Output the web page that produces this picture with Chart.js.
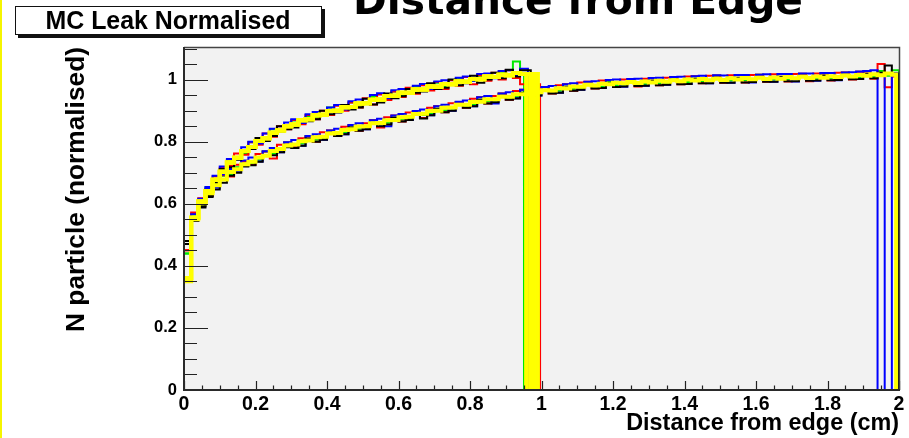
<!DOCTYPE html>
<html>
<head>
<meta charset="utf-8">
<script src="https://cdn.jsdelivr.net/npm/chart.js@4.4.1/dist/chart.umd.min.js"></script>
<style>
  html, body { margin: 0; padding: 0; background: #ffffff; }
  #wrap { position: relative; width: 909px; height: 438px; }
</style>
</head>
<body>
<div id="wrap"><canvas id="c" width="909" height="438"></canvas></div>
<script>
// Histogram bin width (cm) shared by every series
const binWidth = 0.02;

// Narrow module (about 1 cm): bin contents from 0 cm upward
const yellowA = [0.36,0.555,0.607,0.641,0.677,0.703,0.733,0.748,0.77,0.783,
  0.802,0.811,0.829,0.836,0.85,0.855,0.869,0.872,0.885,0.887,
  0.899,0.9,0.911,0.912,0.923,0.924,0.935,0.936,0.947,0.948,
  0.958,0.958,0.968,0.968,0.978,0.977,0.986,0.985,0.994,0.993,
  1.002,1.001,1.01,1.008,1.016,1.014,1.021,1.018];
const blackA = [0.48,0.545,0.592,0.625,0.668,0.712,0.718,0.742,0.772,0.776,
  0.812,0.802,0.818,0.85,0.84,0.846,0.872,0.866,0.872,0.9,
  0.888,0.894,0.918,0.904,0.91,0.938,0.92,0.926,0.955,0.94,
  0.946,0.97,0.958,0.962,0.988,0.97,0.974,1.0,0.982,0.988,
  1.012,0.99,1.0,1.022,1.004,1.032,1.01,1.03];
const redA = [0.45,0.572,0.618,0.628,0.688,0.716,0.722,0.762,0.758,0.798,
  0.79,0.826,0.816,0.85,0.84,0.87,0.856,0.886,0.872,0.9,
  0.886,0.916,0.9,0.926,0.91,0.94,0.92,0.952,0.934,0.962,
  0.944,0.974,0.954,0.982,0.965,0.992,0.97,0.998,0.98,1.008,
  0.985,1.014,0.996,1.022,1.0,1.03,1.005,0.985];
const greenA = [0.44,0.552,0.598,0.652,0.664,0.698,0.742,0.744,0.76,0.798,
  0.794,0.806,0.84,0.832,0.852,0.868,0.862,0.88,0.878,0.884,
  0.91,0.898,0.904,0.926,0.914,0.922,0.944,0.93,0.94,0.962,
  0.95,0.956,0.976,0.964,0.97,0.99,0.978,0.984,1.002,0.99,
  0.996,1.012,1.0,1.006,1.022,1.012,1.058,1.02];
const blueA = [0.36,0.566,0.616,0.654,0.69,0.72,0.744,0.746,0.782,0.8,
  0.794,0.826,0.842,0.832,0.862,0.872,0.86,0.888,0.896,0.884,
  0.91,0.918,0.904,0.93,0.936,0.922,0.95,0.956,0.94,0.966,
  0.97,0.956,0.98,0.986,0.97,0.994,0.998,0.984,1.006,1.01,
  0.996,1.018,1.02,1.004,1.028,1.03,1.012,1.035];

// Upper edge (cm) where each narrow-module histogram drops to zero
const blackEndA = 0.97;
const redEndA = 0.996;
const greenEndA = 0.951;
const blueEndA = 0.962;
const yellowEndsA = [0.957, 0.968, 0.979, 0.99];

// Wide module (about 2 cm): bin contents from 0 cm upward
const yellowB = [0.35,0.55,0.602,0.634,0.66,0.678,0.702,0.711,0.727,0.735,
  0.749,0.755,0.77,0.776,0.788,0.791,0.801,0.804,0.814,0.816,
  0.826,0.828,0.838,0.84,0.849,0.85,0.859,0.86,0.869,0.87,
  0.879,0.88,0.889,0.89,0.899,0.9,0.909,0.91,0.919,0.919,
  0.928,0.929,0.937,0.937,0.945,0.945,0.953,0.953,0.96,0.959,
  0.966,0.965,0.972,0.971,0.978,0.977,0.983,0.981,0.987,0.985,
  0.99,0.988,0.992,0.989,0.994,0.991,0.996,0.993,0.998,0.995,
  1.0,0.997,1.002,0.998,1.003,0.999,1.004,1.0,1.005,1.001,
  1.006,1.002,1.007,1.003,1.008,1.004,1.009,1.005,1.01,1.006,
  1.011,1.008,1.013,1.01,1.015,1.012,1.017,1.014,1.02,1.016];
const blackB = [0.47,0.545,0.588,0.622,0.646,0.668,0.69,0.7,0.72,0.724,
  0.735,0.754,0.756,0.766,0.782,0.78,0.787,0.81,0.8,0.806,
  0.828,0.818,0.824,0.846,0.835,0.84,0.86,0.85,0.855,0.876,
  0.865,0.87,0.89,0.875,0.885,0.905,0.895,0.9,0.92,0.909,
  0.914,0.934,0.923,0.927,0.946,0.935,0.939,0.958,0.946,0.949,
  0.966,0.955,0.958,0.975,0.964,0.967,0.984,0.971,0.973,0.99,
  0.976,0.978,0.993,0.979,0.98,0.996,0.982,0.983,0.999,0.985,
  0.986,1.002,0.988,0.988,1.004,0.99,0.99,1.005,0.991,0.992,
  1.007,0.993,0.993,1.008,0.995,0.995,1.01,0.996,0.997,1.012,
  0.998,0.999,1.014,1.001,1.002,1.018,1.004,1.022,1.045,1.02];
const redB = [0.45,0.568,0.612,0.624,0.672,0.692,0.688,0.726,0.736,0.725,
  0.76,0.768,0.746,0.79,0.797,0.782,0.811,0.817,0.8,0.83,
  0.836,0.818,0.848,0.853,0.835,0.859,0.869,0.846,0.879,0.884,
  0.865,0.894,0.898,0.876,0.909,0.914,0.895,0.924,0.928,0.909,
  0.938,0.943,0.923,0.947,0.955,0.935,0.963,0.967,0.946,0.973,
  0.976,0.955,0.982,0.985,0.964,0.991,0.993,0.971,0.997,0.999,
  0.976,1.0,1.002,0.978,1.003,1.004,0.982,1.006,1.008,0.985,
  1.01,1.011,0.988,1.012,1.013,0.99,1.014,1.014,0.991,1.015,
  1.016,0.993,1.017,1.017,0.994,1.018,1.019,0.995,1.02,1.02,
  0.997,1.022,1.023,1.0,1.025,1.026,1.003,1.05,0.975,1.01];
const greenB = [0.44,0.56,0.61,0.628,0.664,0.69,0.694,0.718,0.736,0.73,
  0.742,0.768,0.762,0.772,0.797,0.788,0.794,0.818,0.806,0.813,
  0.835,0.824,0.83,0.852,0.84,0.845,0.868,0.856,0.861,0.883,
  0.871,0.876,0.898,0.886,0.891,0.913,0.901,0.906,0.928,0.915,
  0.92,0.942,0.929,0.933,0.954,0.941,0.945,0.966,0.952,0.955,
  0.975,0.961,0.964,0.984,0.97,0.973,0.992,0.975,0.977,0.996,
  0.982,0.983,1.0,0.985,0.986,1.004,0.988,0.989,1.007,0.991,
  0.992,1.01,0.995,0.995,1.012,0.996,0.997,1.014,0.998,0.998,
  1.016,1.0,1.0,1.017,1.001,1.001,1.018,1.002,1.003,1.02,
  1.004,1.005,1.022,1.007,1.008,1.026,1.01,1.028,1.012,1.03];
const blueB = [0.36,0.55,0.614,0.648,0.652,0.694,0.712,0.703,0.739,0.749,
  0.736,0.769,0.78,0.766,0.798,0.805,0.787,0.818,0.824,0.806,
  0.836,0.842,0.824,0.854,0.859,0.84,0.869,0.874,0.85,0.884,
  0.889,0.87,0.899,0.904,0.885,0.914,0.919,0.9,0.929,0.933,
  0.914,0.943,0.947,0.923,0.955,0.959,0.94,0.967,0.97,0.949,
  0.976,0.979,0.958,0.985,0.988,0.967,0.993,0.995,0.973,0.999,
  1.0,0.977,1.002,1.003,0.98,1.005,1.006,0.983,1.008,1.009,
  0.986,1.011,1.012,0.988,1.014,1.013,0.99,1.015,1.015,0.991,
  1.016,1.017,0.993,1.018,1.018,0.994,1.02,1.02,0.996,1.021,
  1.021,0.998,1.023,1.024,1.026,1.028,1.03,0,1.02,0];

const wideEndB = 2.0;
const yellowEndB = 1.992;

// Axis ranges and labels
const xRange = [0, 2];
const yRange = [0, 1.105];
const majorStep = 0.2;
const minorStep = 0.05;
const padTitle = 'MC Leak Normalised';
const mainTitle = 'Distance from Edge';
const xTitle = 'Distance from edge (cm)';
const yTitle = 'N particle (normalised)';
const tickText = v => String(Math.round(v * 100) / 100);

const COLORS = { black: '#000000', red: '#ff0000', green: '#00e800', blue: '#0000ff', yellow: '#ffff00' };

// Outline of a step histogram: bin tops, then a drop to zero at the upper edge
function histogramOutline(values, end) {
  const pts = [];
  for (let i = 0; i < values.length; i++) {
    const x = i * binWidth;
    if (x >= end - 1e-9) break;
    pts.push({ x, y: values[i] });
  }
  pts.push({ x: end, y: pts[pts.length - 1].y });
  pts.push({ x: end, y: 0 });
  return pts;
}

function series(values, end, color, width, order) {
  return {
    data: histogramOutline(values, end),
    borderColor: COLORS[color],
    borderWidth: width,
    stepped: true,
    fill: false,
    pointRadius: 0,
    order
  };
}

const datasets = [];
yellowEndsA.forEach(e => datasets.push(series(yellowA, e, 'yellow', 4, 0)));
datasets.push(series(yellowB, yellowEndB, 'yellow', 4, 0));
datasets.push(series(blackA, blackEndA, 'black', 2, 1));
datasets.push(series(blackB, wideEndB, 'black', 2, 1));
datasets.push(series(blueA, blueEndA, 'blue', 2, 2));
datasets.push(series(blueB, wideEndB, 'blue', 2, 2));
datasets.push(series(redA, redEndA, 'red', 2, 3));
datasets.push(series(redB, wideEndB, 'red', 2, 3));
datasets.push(series(greenA, greenEndA, 'green', 2, 4));
datasets.push(series(greenB, wideEndB, 'green', 2, 4));

// Font sizes chosen so each caption spans its intended width
const meas = document.createElement('canvas').getContext('2d');
function fitSize(text, family, width) {
  meas.font = 'bold 100px ' + family;
  return 100 * width / meas.measureText(text).width;
}
const SANS = '"Liberation Sans", Arial, sans-serif';
const HAND = '"DejaVu Sans", sans-serif';
const padTitleSize = fitSize(padTitle, SANS, 245);
const mainTitleSize = fitSize(mainTitle, HAND, 450);
const xTitleSize = fitSize(xTitle, SANS, 273);
const yTitleSize = fitSize(yTitle, SANS, 285);

Chart.defaults.font.family = SANS;
Chart.defaults.color = '#000';

// Pad decoration, frame fill, inward ticks and axis lines
const rootFrame = {
  id: 'rootFrame',
  beforeDraw(chart) {
    const { ctx, chartArea: a } = chart;
    ctx.save();
    ctx.fillStyle = '#ffffff';
    ctx.fillRect(0, 0, chart.width, chart.height);
    ctx.fillStyle = '#f5f500';
    ctx.fillRect(0, 0, 2, chart.height);
    ctx.fillStyle = '#f2f2f2';
    ctx.fillRect(a.left, a.top, a.right - a.left, a.bottom - a.top);

    // title box with shadow
    ctx.fillStyle = '#111';
    ctx.fillRect(18, 35, 307, 3);
    ctx.fillRect(322, 9, 3, 29);
    ctx.fillStyle = '#fff';
    ctx.fillRect(15, 6, 307, 29);
    ctx.strokeStyle = '#111';
    ctx.lineWidth = 1;
    ctx.strokeRect(15.5, 6.5, 306, 28);
    ctx.fillStyle = '#000';
    ctx.font = 'bold ' + padTitleSize.toFixed(2) + 'px ' + SANS;
    ctx.textAlign = 'center';
    ctx.textBaseline = 'alphabetic';
    ctx.fillText(padTitle, 168, 28.5);

    ctx.font = 'bold ' + mainTitleSize.toFixed(2) + 'px ' + HAND;
    ctx.fillText(mainTitle, 578, 14);
    ctx.restore();
  },
  afterDatasetsDraw(chart) {
    const { ctx, chartArea: a, scales: { x, y } } = chart;
    ctx.save();
    ctx.strokeStyle = '#222';
    ctx.lineWidth = 1.2;
    ctx.beginPath();
    const perMajor = Math.round(majorStep / minorStep);
    const nY = Math.floor((yRange[1] - yRange[0]) / minorStep + 1e-9);
    for (let i = 0; i <= nY; i++) {
      const v = yRange[0] + i * minorStep;
      const major = i % perMajor === 0;
      const py = Math.round(y.getPixelForValue(v)) + 0.5;
      ctx.moveTo(a.left, py);
      ctx.lineTo(a.left + (major ? 24 : 13), py);
    }
    const nX = Math.round((xRange[1] - xRange[0]) / minorStep);
    for (let i = 0; i <= nX; i++) {
      const v = xRange[0] + i * minorStep;
      const major = i % perMajor === 0;
      const px = Math.round(x.getPixelForValue(v)) + 0.5;
      ctx.moveTo(px, a.bottom);
      ctx.lineTo(px, a.bottom - (major ? 9 : 4.5));
    }
    ctx.stroke();

    // frame: thin top/right, heavier axis lines
    ctx.strokeStyle = '#444';
    ctx.lineWidth = 1.5;
    ctx.beginPath();
    ctx.moveTo(a.left, a.top + 0.5);
    ctx.lineTo(a.right + 0.5, a.top + 0.5);
    ctx.lineTo(a.right + 0.5, a.bottom);
    ctx.stroke();
    ctx.strokeStyle = '#2a2a2a';
    ctx.lineWidth = 2;
    ctx.beginPath();
    ctx.moveTo(a.left, a.top);
    ctx.lineTo(a.left, a.bottom);
    ctx.lineTo(a.right + 1, a.bottom);
    ctx.stroke();
    ctx.restore();
  }
};

new Chart(document.getElementById('c'), {
  type: 'line',
  data: { datasets },
  options: {
    responsive: false,
    animation: false,
    devicePixelRatio: 1,
    layout: { padding: { left: 0, right: 10, top: 47, bottom: 0 } },
    plugins: { legend: { display: false }, tooltip: { enabled: false }, title: { display: false } },
    elements: { point: { radius: 0 }, line: { tension: 0, borderCapStyle: 'butt', borderJoinStyle: 'miter' } },
    scales: {
      x: {
        type: 'linear', min: xRange[0], max: xRange[1],
        grid: { display: false, drawTicks: false, tickLength: 0 },
        border: { display: false },
        ticks: { stepSize: majorStep, includeBounds: false, autoSkip: false, maxRotation: 0, padding: 3,
                 callback: tickText,
                 color: '#000', font: { family: SANS, weight: 'bold', size: 19.5 } },
        title: { display: true, text: xTitle, align: 'end', color: '#000',
                 font: { family: SANS, weight: 'bold', size: xTitleSize }, padding: { top: 0, bottom: 0 } },
        afterFit(s) { s.height = 48; }
      },
      y: {
        type: 'linear', min: yRange[0], max: yRange[1],
        grid: { display: false, drawTicks: false, tickLength: 0 },
        border: { display: false },
        ticks: { stepSize: majorStep, includeBounds: false, autoSkip: false, padding: 7,
                 callback: tickText,
                 color: '#000', font: { family: SANS, weight: 'bold', size: 16.5 } },
        title: { display: true, text: yTitle, align: 'end', color: '#000',
                 font: { family: SANS, weight: 'bold', size: yTitleSize }, padding: { top: 61, bottom: 0 } },
        afterFit(s) { s.width = 184; }
      }
    }
  },
  plugins: [rootFrame]
});
</script>
</body>
</html>
